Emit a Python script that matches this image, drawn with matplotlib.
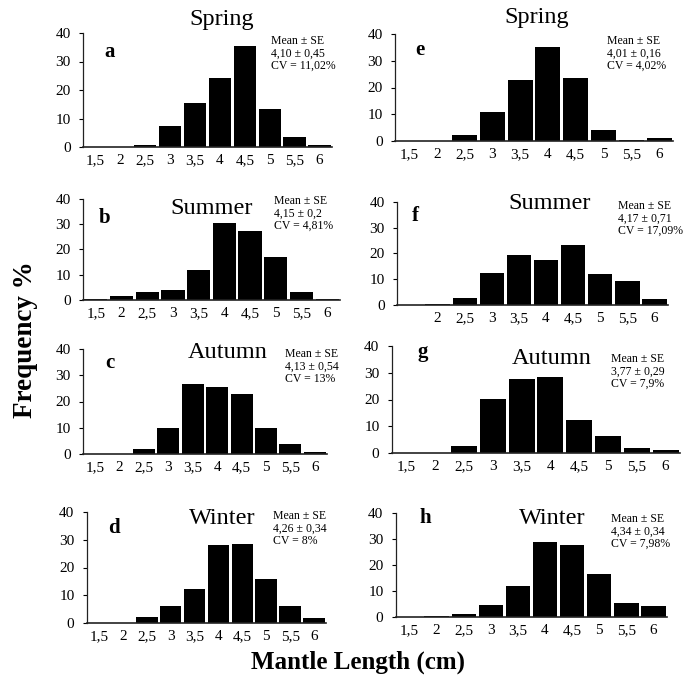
import matplotlib
matplotlib.use("Agg")
import matplotlib.pyplot as plt

plt.rcParams['font.family'] = ['Liberation Serif', 'DejaVu Serif']

W, H = 685, 679

categories = ["1,5", "2", "2,5", "3", "3,5", "4", "4,5", "5", "5,5", "6"]

spring_a = [0, 0, 0.8, 7.3, 15.3, 24.3, 35.5, 13.5, 3.5, 0.8]
summer_b = [0.3, 1.5, 3.0, 4.0, 12.0, 30.5, 27.5, 17.2, 3.2, 0.3]
autumn_c = [0, 0, 2.0, 9.8, 26.5, 25.5, 22.8, 9.8, 3.8, 0.9]
winter_d = [0, 0, 2.0, 6.3, 12.2, 28.0, 28.3, 16.0, 6.2, 1.7]
spring_e = [0, 0, 2.2, 11.0, 22.8, 35.2, 23.5, 4.2, 0.3, 1.2]
summer_f = [0, 0.5, 2.8, 12.5, 19.3, 17.5, 23.2, 12.2, 9.2, 2.2]
autumn_g = [0, 0, 2.5, 20.3, 27.6, 28.3, 12.5, 6.3, 2.0, 1.0]
winter_h = [0, 0.5, 1.2, 4.8, 12.0, 28.8, 27.8, 16.6, 5.2, 4.2]

stats = {
    "a": "Mean \u00b1 SE\n4,10 \u00b1 0,45\nCV = 11,02%",
    "b": "Mean \u00b1 SE\n4,15 \u00b1 0,2\nCV = 4,81%",
    "c": "Mean \u00b1 SE\n4,13 \u00b1 0,54\nCV = 13%",
    "d": "Mean \u00b1 SE\n4,26 \u00b1 0,34\nCV = 8%",
    "e": "Mean \u00b1 SE\n4,01 \u00b1 0,16\nCV = 4,02%",
    "f": "Mean \u00b1 SE\n4,17 \u00b1 0,71\nCV = 17,09%",
    "g": "Mean \u00b1 SE\n3,77 \u00b1 0,29\nCV = 7,9%",
    "h": "Mean \u00b1 SE\n4,34 \u00b1 0,34\nCV = 7,98%",
}

# panel: (letter, season, values, axes px: x_left, x_right, y40, y0,
#         title center px, letter px, stats px, show first tick label)
panels = [
    ("a", "Spring", spring_a, (83, 332, 33, 147), (222, 20), (110, 52), (271, 35), True),
    ("b", "Summer", summer_b, (83, 340, 199, 300), (212, 208), (105, 218), (274, 195), True),
    ("c", "Autumn", autumn_c, (83, 327, 349, 454), (228, 352), (110, 363), (285, 348), True),
    ("d", "Winter", winter_d, (87, 326, 512, 623), (222, 519), (114, 528), (273, 510), True),
    ("e", "Spring", spring_e, (395, 673, 34, 141), (537, 17), (420, 50), (607, 35), True),
    ("f", "Summer", summer_f, (397, 668, 202, 305), (550, 203), (415, 216), (618, 200), False),
    ("g", "Autumn", autumn_g, (392, 680, 346, 453), (552, 358), (423, 352), (611, 353), True),
    ("h", "Winter", winter_h, (396, 667, 513, 617), (552, 519), (425, 518), (611, 513), True),
]

fig = plt.figure(figsize=(W / 100, H / 100), dpi=100)

def fx(px):
    return px / W

def fy(py):
    return 1 - py / H

for letter, season, vals, (xl, xr, y40, y0), tpos, lpos, spos, first in panels:
    ax = fig.add_axes([fx(xl), fy(y0), (xr - xl) / W, (y0 - y40) / H])
    xs = list(range(len(categories)))
    ax.bar(xs, vals, width=0.9, color="black", edgecolor="none")
    ax.set_xlim(-0.5, len(categories) - 0.5)
    ax.set_ylim(0, 40)
    ax.set_yticks([0, 10, 20, 30, 40])
    ax.set_xticks(xs)
    labels = list(categories)
    if not first:
        labels[0] = ""
    ax.set_xticklabels(labels, fontsize=11)
    ax.tick_params(axis="y", labelsize=11, length=3, width=0.8, direction="out", pad=6)
    ax.tick_params(axis="x", length=0, pad=5)
    for s in ["top", "right"]:
        ax.spines[s].set_visible(False)
    ax.spines["left"].set_linewidth(0.9)
    ax.spines["bottom"].set_linewidth(1.2)
    ax.spines["bottom"].set_color("#222222")
    ax.spines["left"].set_color("#222222")

    fig.text(fx(tpos[0]), fy(tpos[1]), season, fontsize=17.5, ha="center", va="center")
    fig.text(fx(lpos[0]), fy(lpos[1]), letter, fontsize=15, fontweight="bold",
             ha="center", va="center")
    fig.text(fx(spos[0]), fy(spos[1]), stats[letter], fontsize=8.5, ha="left", va="top",
             linespacing=1.05)

fig.text(fx(26), fy(340), "Frequency %", fontsize=19.5, fontweight="bold",
         rotation=90, ha="center", va="center")
fig.text(fx(358), fy(662), "Mantle Length (cm)", fontsize=18, fontweight="bold",
         ha="center", va="center")

fig.savefig("out.png", dpi=100)
